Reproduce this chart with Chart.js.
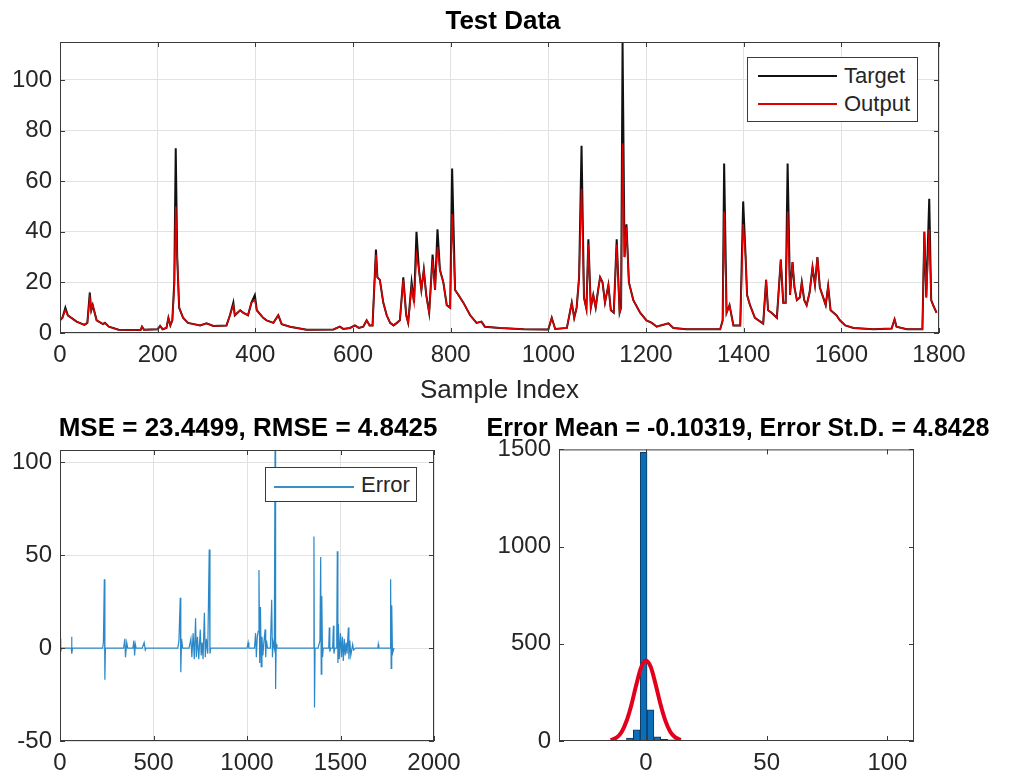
<!DOCTYPE html>
<html>
<head>
<meta charset="utf-8">
<script src="https://cdn.jsdelivr.net/npm/chart.js@4.4.1/dist/chart.umd.min.js"></script>
<style>
  body { margin: 0; background: #fff; }
  #wrap { position: relative; width: 1028px; height: 778px; overflow: hidden; font-family: "Liberation Sans", Arial, sans-serif; }
  canvas { position: absolute; }
  .legend { position: absolute; box-sizing: border-box; border: 1px solid #3a3a3a; background: #fff; }
  .legend .swatch { position: absolute; height: 2px; }
  .legend .lbl { position: absolute; font-size: 22px; color: #262626; line-height: 24px; }
</style>
</head>
<body>
<div id="wrap">
  <canvas id="testChart" width="1006" height="410" style="left:0;top:0"></canvas>
  <canvas id="errorChart" width="496" height="378" style="left:0;top:400px"></canvas>
  <canvas id="histChart" width="516" height="378" style="left:480px;top:400px"></canvas>

  <div class="legend" style="left:747px;top:57px;width:171px;height:65px">
    <div class="swatch" style="left:10px;top:17px;width:79px;background:#111"></div>
    <div class="lbl" style="left:96px;top:6px">Target</div>
    <div class="swatch" style="left:10px;top:45px;width:79px;background:#e00000"></div>
    <div class="lbl" style="left:96px;top:34px">Output</div>
  </div>
  <div class="legend" style="left:265px;top:467px;width:152px;height:35px">
    <div class="swatch" style="left:8px;top:18px;width:80px;background:#3b8fc9"></div>
    <div class="lbl" style="left:95px;top:5px">Error</div>
  </div>
</div>
<script>
// top plot: target vs network output
const sampleIdx = [
  0, 5, 11, 16, 34, 50, 56, 61, 64, 67,
  75, 88, 92, 100, 120, 165, 168, 172, 200, 205,
  210, 218, 222, 226, 230, 234, 237, 240, 244, 252,
  262, 287, 300, 314, 341, 348, 355, 358, 369, 375,
  385, 392, 399, 403, 416, 423, 437, 447, 454, 471,
  505, 560, 573, 580, 594, 604, 612, 621, 628, 634,
  640, 644, 647, 650, 655, 662, 669, 676, 683, 690,
  696, 703, 709, 713, 720, 725, 730, 735, 740, 745,
  750, 756, 763, 768, 773, 778, 785, 792, 799, 803,
  809, 816, 826, 840, 853, 863, 870, 901, 950, 1000,
  1007, 1014, 1038, 1048, 1053, 1058, 1063, 1068, 1073, 1078,
  1082, 1087, 1092, 1097, 1102, 1106, 1111, 1116, 1123, 1128,
  1134, 1140, 1146, 1149, 1152, 1156, 1160, 1165, 1174, 1188,
  1201, 1212, 1222, 1230, 1246, 1256, 1283, 1352, 1357, 1360,
  1365, 1371, 1379, 1393, 1399, 1404, 1407, 1413, 1423, 1440,
  1446, 1450, 1457, 1468, 1476, 1481, 1486, 1490, 1495, 1500,
  1504, 1509, 1515, 1519, 1524, 1529, 1535, 1541, 1546, 1551,
  1556, 1563, 1568, 1573, 1578, 1590, 1597, 1608, 1625, 1666,
  1703, 1709, 1713, 1734, 1766, 1770, 1774, 1780, 1784, 1788,
  1795
];
const targetVals = [
  5, 6, 10, 7, 4.5, 3.2, 4, 16, 9, 11,
  5, 3.5, 4, 2.5, 1.3, 1.2, 2.5, 1.3, 1.5, 2.8,
  1.5, 2, 6, 3, 5, 20, 73, 30, 10, 6,
  4, 3, 3.8, 2.8, 3, 7, 12, 7, 9, 8,
  7, 12, 15, 9, 6, 5, 4, 7, 3.5, 2.5,
  1.3, 1.4, 2.5, 1.6, 2, 3, 2, 2.5, 5, 3,
  3, 20, 33, 22, 21, 12, 7, 4, 3, 4,
  5, 22, 7, 4, 20, 12, 40, 25, 17, 25,
  15, 8, 31, 17, 41, 25, 20, 11, 10, 65,
  17, 15, 12, 7, 4, 4.5, 2.5, 2, 1.5, 1.4,
  6, 1.6, 2, 12, 6, 10, 22, 74, 14, 9.5,
  37, 10, 15, 10, 17, 22, 20, 12, 19, 9,
  8, 37, 8, 10, 115, 30, 43, 20, 13, 8,
  5, 4, 2.5, 3, 3.8, 2, 1.5, 1.5, 5, 67,
  8, 11, 3, 3, 52, 30, 15, 11, 6, 3.7,
  21, 9, 8, 6, 29, 12, 12, 67, 15, 28,
  18, 13, 14, 20, 13, 11, 16, 26, 19, 30,
  18, 14, 11, 18.5, 9, 7, 5, 3, 2, 1.5,
  1.8, 5.4, 2.5, 1.5, 1.5, 40, 14, 53, 13, 11,
  8
];
const outputVals = [
  5, 6, 9, 7, 4.5, 3.2, 4, 14, 9, 11,
  5, 3.5, 4, 2.5, 1.3, 1.2, 2.5, 1.3, 1.5, 2.8,
  1.5, 2, 6, 3, 5, 18, 50, 30, 10, 6,
  4, 3, 3.8, 2.8, 3, 7, 11, 7, 9, 8,
  7, 12, 13, 9, 6, 5, 4, 7, 3.5, 2.5,
  1.3, 1.4, 2.5, 1.6, 2, 3, 2, 2.5, 5, 3,
  3, 20, 31, 22, 21, 12, 7, 4, 3, 4,
  5, 21, 7, 4, 18, 12, 31, 25, 17, 25,
  15, 8, 29, 17, 34, 25, 20, 11, 10, 47,
  17, 15, 12, 7, 4, 4.5, 2.5, 2, 1.5, 1.4,
  6, 1.6, 2, 12, 6, 10, 22, 57, 14, 9.5,
  35, 10, 15, 10, 17, 22, 20, 12, 19, 9,
  8, 35, 8, 10, 75, 30, 42, 20, 13, 8,
  5, 4, 2.5, 3, 3.8, 2, 1.5, 1.5, 5, 48,
  8, 11, 3, 3, 43, 30, 15, 11, 6, 3.7,
  21, 9, 8, 6, 29, 12, 12, 48, 15, 28,
  18, 13, 14, 20, 13, 11, 16, 26, 19, 30,
  18, 14, 11, 18.5, 9, 7, 5, 3, 2, 1.5,
  1.8, 5.4, 2.5, 1.5, 1.5, 40, 14, 41, 13, 11,
  8
];

// bottom left: error trace
const errIdx = [
  0, 3, 5, 8, 60, 62, 64, 67, 228, 232, 237, 240, 243,
  340, 347, 350, 357, 362, 390, 395, 399, 403, 407, 440, 450, 456, 460,
  630, 636, 643, 646, 650, 656,
  690, 700, 705, 712, 718, 725, 729, 735, 742, 750, 755, 760, 765, 772, 777, 783, 790, 798, 802, 806,
  1000, 1006, 1010,
  1040, 1046, 1050, 1055, 1060, 1064, 1068, 1072, 1076, 1080, 1085, 1090, 1097, 1100, 1104, 1110,
  1125, 1132, 1136, 1140, 1146, 1150, 1153, 1156, 1160,
  1355, 1358, 1361, 1364,
  1380, 1390, 1394, 1397, 1400, 1404, 1408,
  1437, 1440, 1443, 1447, 1458, 1462, 1465, 1470,
  1477, 1480, 1483, 1486, 1489, 1493, 1500, 1505, 1510, 1515, 1520, 1525, 1530, 1535, 1542, 1545, 1550, 1555, 1565, 1570, 1580,
  1700, 1702, 1705,
  1766, 1768, 1771, 1774, 1778, 1786
];
const errVals = [
  0, 5, -2, 0, 0, 6, -3, 0, 0, 3, 37, -17, 0,
  0, 5, -5, 3, 0, 0, 4, -4, 2, 0, 0, 3, -1, 0,
  0, 4, 27, -13, 5, 0,
  0, 5, -5, 8, -6, 16, -5, 6, -6, 10, -4, 3, -6, 19, -5, 5, -3, 53, -3, 0,
  0, 3, 0,
  0, 8, -5, 6, 9, 42, -8, 22, -10, 6, -4, 3, 10, -5, 4, 0,
  0, 26, -5, 3, 0, 107, -22, 2, 0,
  0, 60, -32, 0,
  0, 4, 49, -14, 28, -5, 0,
  0, 11, -2, 0, 0, 12, -3, 0,
  0, 8, 52, -8, 13, -6, 8, -5, 6, -7, 5, -4, 3, -3, 11, -6, 4, -4, 2, -1, 0,
  0, 2, 0,
  0, 37, -11, 23, -3, 0
];

// bottom right: error histogram and fitted curve
const binCenters = [-32.2, -23.68, -18.0, -15.16, -12.32, -9.48, -6.64, -3.8, -0.96, 1.88,
  4.72, 7.56, 10.4, 13.24, 16.08, 18.92, 21.76, 24.6, 27.44, 35.96,
  41.64, 50.16, 53.0, 58.68, 106.96];
const binCounts = [1, 1, 1, 1, 3, 4, 15, 57, 1485, 160,
  22, 8, 6, 4, 3, 2, 2, 2, 1, 2,
  1, 1, 1, 1, 1];
const fitX = [-14.6, -12, -10, -8, -6, -4, -2, -0.1, 2, 4, 6, 8, 10, 12, 14.4];
const fitY = [5, 19, 48, 104, 187, 289, 378, 414, 381, 292, 190, 106, 49, 20, 5];

const topXTicks = [0, 200, 400, 600, 800, 1000, 1200, 1400, 1600, 1800];
const topYTicks = [0, 20, 40, 60, 80, 100];
const errXTicks = [0, 500, 1000, 1500, 2000];
const errYTicks = [-50, 0, 50, 100];
const histXTicks = [0, 50, 100];
const histYTicks = [0, 500, 1000, 1500];

Chart.defaults.font.family = '"Liberation Sans", Arial, sans-serif';
Chart.defaults.color = '#262626';

const frameColor = '#3a3a3a';
const gridColor = '#e2e2e2';

// MATLAB style box with inward tick marks
const boxFrame = {
    id: 'boxFrame',
    afterDatasetsDraw(chart) {
        const { ctx, chartArea: a, scales: { x, y } } = chart;
        ctx.save();
        ctx.strokeStyle = frameColor;
        ctx.lineWidth = 1;
        ctx.strokeRect(a.left + 0.5, a.top + 0.5, a.width - 1, a.height - 1);
        ctx.beginPath();
        x.ticks.forEach(t => {
            const px = Math.round(x.getPixelForValue(t.value)) + 0.5;
            ctx.moveTo(px, a.bottom); ctx.lineTo(px, a.bottom - 5);
            ctx.moveTo(px, a.top); ctx.lineTo(px, a.top + 5);
        });
        y.ticks.forEach(t => {
            const py = Math.round(y.getPixelForValue(t.value)) + 0.5;
            ctx.moveTo(a.left, py); ctx.lineTo(a.left + 5, py);
            ctx.moveTo(a.right, py); ctx.lineTo(a.right - 5, py);
        });
        ctx.stroke();
        ctx.restore();
    }
};

function axis(min, max, tickList, opts) {
    return {
        type: 'linear',
        min: min,
        max: max,
        offset: false,
        afterBuildTicks: s => { s.ticks = tickList.map(v => ({ value: v })); },
        afterFit: opts.fit,
        grid: { display: opts.grid, color: gridColor, drawTicks: false, tickLength: 0, offset: false },
        border: { display: false },
        ticks: {
            autoSkip: false,
            maxRotation: 0,
            padding: 8,
            font: { size: 24 },
            callback: v => String(v)
        },
        title: opts.title || { display: false }
    };
}

// empty right-hand scale, only reserves space so the title centres over the plot
function spacer(width) {
    return {
        type: 'linear',
        position: 'right',
        display: true,
        grid: { display: false, drawTicks: false },
        border: { display: false },
        ticks: { display: false },
        afterFit: s => { s.width = width; }
    };
}

function titleOpts(text, size, top, bottom) {
    return {
        display: true,
        text: text,
        color: '#000',
        font: { size: size, weight: 'bold', lineHeight: 1.2 },
        padding: { top: top, bottom: bottom }
    };
}

const baseOpts = {
    responsive: false,
    animation: false,
    events: [],
    elements: { point: { radius: 0 }, line: { tension: 0 } }
};

new Chart(document.getElementById('testChart'), {
    type: 'line',
    data: {
        datasets: [
            {
                label: 'Output',
                data: sampleIdx.map((s, i) => ({ x: s, y: outputVals[i] })),
                borderColor: '#e00000',
                borderWidth: 1.5,
                order: 0
            },
            {
                label: 'Target',
                data: sampleIdx.map((s, i) => ({ x: s, y: targetVals[i] })),
                borderColor: '#111111',
                borderWidth: 2,
                order: 1
            }
        ]
    },
    options: {
        ...baseOpts,
        plugins: {
            legend: { display: false },
            tooltip: { enabled: false },
            title: titleOpts('Test Data', 26, 6, 4.8)
        },
        scales: {
            x: axis(0, 1800, topXTicks, {
                grid: true,
                fit: s => { s.height = 77; },
                title: { display: true, text: 'Sample Index', color: '#262626', font: { size: 26, lineHeight: 1.2 }, padding: { top: 0, bottom: 4 } }
            }),
            y: axis(0, 115, topYTicks, { grid: true, fit: s => { s.width = 60; } }),
            pad: spacer(67)
        }
    },
    plugins: [boxFrame]
});

new Chart(document.getElementById('errorChart'), {
    type: 'line',
    data: {
        datasets: [{
            label: 'Error',
            data: errIdx.map((s, i) => ({ x: s, y: errVals[i] })),
            borderColor: '#2a88c8',
            borderWidth: 1.2
        }]
    },
    options: {
        ...baseOpts,
        plugins: {
            legend: { display: false },
            tooltip: { enabled: false },
            title: titleOpts('MSE = 23.4499, RMSE = 4.8425', 26, 13.4, 5.4)
        },
        scales: {
            x: axis(0, 2000, errXTicks, { grid: true, fit: s => { s.height = 37; } }),
            y: axis(-50, 106.5, errYTicks, { grid: true, fit: s => { s.width = 60; } }),
            pad: spacer(62)
        }
    },
    plugins: [boxFrame]
});

new Chart(document.getElementById('histChart'), {
    type: 'bar',
    data: {
        datasets: [
            {
                type: 'line',
                label: 'Fit',
                data: fitX.map((v, i) => ({ x: v, y: fitY[i] })),
                borderColor: '#e3001b',
                borderWidth: 4,
                cubicInterpolationMode: 'monotone',
                order: 0
            },
            {
                label: 'Histogram',
                data: binCenters.map((c, i) => ({ x: c, y: binCounts[i] })),
                backgroundColor: '#0a6fb8',
                borderColor: '#10385e',
                borderWidth: 1,
                barPercentage: 1,
                categoryPercentage: 1,
                order: 1
            }
        ]
    },
    options: {
        ...baseOpts,
        plugins: {
            legend: { display: false },
            tooltip: { enabled: false },
            title: titleOpts('Error Mean = -0.10319, Error St.D. = 4.8428', 25, 14, 5.4)
        },
        scales: {
            x: axis(-36, 111, histXTicks, { grid: false, fit: s => { s.height = 37; } }),
            y: axis(0, 1500, histYTicks, { grid: false, fit: s => { s.width = 79; } }),
            pad: spacer(82)
        }
    },
    plugins: [boxFrame]
});
</script>
</body>
</html>
